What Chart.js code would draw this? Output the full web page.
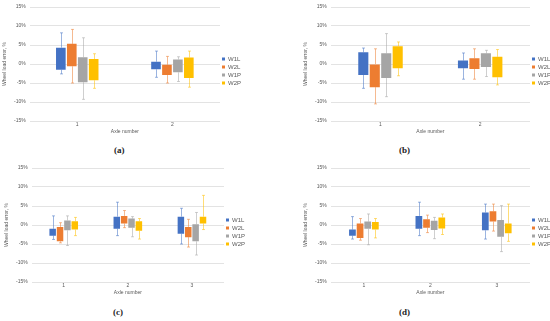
<!DOCTYPE html>
<html>
<head>
<meta charset="utf-8">
<script src="https://cdn.jsdelivr.net/npm/chart.js@4.4.0/dist/chart.umd.min.js"></script>
<style>
  body { margin:0; background:#fff; width:550px; height:321px; overflow:hidden; position:relative; }
  canvas { position:absolute; }
  .cap { position:absolute; font-family:"Liberation Serif","DejaVu Serif",serif; font-weight:bold; font-size:9px; color:#222; }
</style>
</head>
<body>
<canvas id="ca" width="275" height="138" style="left:0;top:0"></canvas>
<canvas id="cb" width="286" height="138" style="left:275px;top:0"></canvas>
<canvas id="cc" width="275" height="138" style="left:0;top:161px"></canvas>
<canvas id="cd" width="286" height="138" style="left:275px;top:161px"></canvas>
<div class="cap" style="left:114px;top:145px">(a)</div>
<div class="cap" style="left:399px;top:145px">(b)</div>
<div class="cap" style="left:113px;top:307px">(c)</div>
<div class="cap" style="left:399px;top:307px">(d)</div>
<script>
const series = ['W1L', 'W2L', 'W1P', 'W2P'];
const colors = ['#4472C4', '#ED7D31', '#A5A5A5', '#FFC000'];
const axles2 = ['1', '2'];
const axles3 = ['1', '2', '3'];
const yTicks = [-15, -10, -5, 0, 5, 10, 15];

// rows = series (W1L, W2L, W1P, W2P), columns = axles
// panel (a)
const aMin = [[-2.6, -3.5], [-5.0, -5.0], [-9.3, -4.6], [-6.4, -6.1]];
const aQ1  = [[-1.5, -1.4], [-0.6, -2.9], [-4.8, -2.2], [-4.3, -3.7]];
const aQ3  = [[4.3, 0.6], [5.3, -0.2], [1.8, 1.2], [1.3, 1.7]];
const aMax = [[8.2, 3.4], [9.1, 2.0], [6.9, 1.9], [2.7, 3.4]];
// panel (b)
const bMin = [[-6.4, -4.0], [-10.5, -4.0], [-8.6, -3.3], [-3.1, -5.5]];
const bQ1  = [[-2.9, -1.1], [-6.1, -1.3], [-3.7, -0.8], [-1.1, -3.5]];
const bQ3  = [[3.1, 0.9], [0.0, 1.5], [2.8, 2.8], [4.7, 1.9]];
const bMax = [[4.2, 2.9], [4.0, 4.0], [8.0, 3.6], [5.8, 3.8]];
// panel (c)
const cMin = [[-3.8, -2.8, -5.0], [-4.7, -0.7, -5.8], [-5.4, -3.1, -7.9], [-2.8, -3.7, -1.2]];
const cQ1  = [[-2.8, -1.0, -2.3], [-4.3, 0.4, -3.2], [-1.4, -0.7, -4.3], [-1.2, -1.5, 0.4]];
const cQ3  = [[-1.0, 2.2, 2.2], [-0.5, 2.4, -0.5], [1.2, 1.7, 0.2], [1.0, 1.0, 2.2]];
const cMax = [[2.4, 6.0, 4.4], [0.6, 3.8, 1.5], [2.4, 2.2, 3.3], [2.0, 1.7, 7.8]];
// panel (d)
const dMin = [[-3.7, -2.8, -3.7], [-4.0, -2.0, -1.6], [-5.2, -3.6, -7.0], [-3.4, -2.5, -4.3]];
const dQ1  = [[-2.8, -1.0, -1.4], [-3.4, -0.7, 0.9], [-1.0, -1.3, -3.1], [-1.2, -0.9, -2.2]];
const dQ3  = [[-1.2, 2.4, 3.3], [0.4, 1.5, 3.6], [0.9, 1.1, 1.3], [0.8, 2.0, 0.4]];
const dMax = [[2.2, 6.0, 5.5], [1.7, 2.6, 5.5], [2.9, 2.0, 5.1], [1.7, 2.9, 5.5]];

const txt = '#595959';

// draws the whiskers of each box from the dataset's lo/hi arrays
const whiskers = {
    id: 'whiskers',
    afterDatasetsDraw(chart) {
        const ctx = chart.ctx;
        const y = chart.scales.y;
        chart.data.datasets.forEach((ds, i) => {
            const meta = chart.getDatasetMeta(i);
            ctx.save();
            ctx.strokeStyle = ds.whiskerColor;
            ctx.lineWidth = 1;
            meta.data.forEach((bar, j) => {
                const x = Math.round(bar.x) + 0.5;
                const yHi = y.getPixelForValue(ds.hi[j]);
                const yLo = y.getPixelForValue(ds.lo[j]);
                const yTop = y.getPixelForValue(ds.data[j][1]);
                const yBot = y.getPixelForValue(ds.data[j][0]);
                ctx.beginPath();
                ctx.moveTo(x, yHi); ctx.lineTo(x, yTop);
                ctx.moveTo(x, yBot); ctx.lineTo(x, yLo);
                ctx.moveTo(x - 1.5, yHi); ctx.lineTo(x + 1.5, yHi);
                ctx.moveTo(x - 1.5, yLo); ctx.lineTo(x + 1.5, yLo);
                ctx.stroke();
            });
            ctx.restore();
        });
    }
};

function makePanel(id, cats, lo, q1, q3, hi, padLeft, padRight) {
    new Chart(document.getElementById(id), {
        type: 'bar',
        data: {
            labels: cats,
            datasets: series.map((s, i) => ({
                label: s,
                data: q1[i].map((v, j) => [v, q3[i][j]]),
                lo: lo[i],
                hi: hi[i],
                backgroundColor: colors[i],
                whiskerColor: colors[i] + '88',
                borderWidth: 0,
                categoryPercentage: 0.46,
                barPercentage: 0.88
            }))
        },
        options: {
            responsive: false,
            animation: false,
            layout: { padding: { left: padLeft, right: padRight, top: 7, bottom: 3 } },
            plugins: {
                legend: {
                    position: 'right',
                    labels: { boxWidth: 3, boxHeight: 3, padding: 2, color: txt, font: { size: 6 } }
                },
                tooltip: { enabled: false }
            },
            scales: {
                x: {
                    grid: { display: false, drawTicks: false },
                    border: { display: false },
                    ticks: { color: txt, font: { size: 5 }, padding: 1 },
                    title: { display: true, text: 'Axle number', color: txt, font: { size: 5 }, padding: 0 }
                },
                y: {
                    min: -15,
                    max: 15,
                    afterBuildTicks: axis => { axis.ticks = yTicks.map(v => ({ value: v })); },
                    grid: { color: '#e3e3e3', drawTicks: false },
                    border: { display: false },
                    ticks: { color: txt, font: { size: 5 }, padding: 4, callback: v => v + '%' },
                    title: { display: true, text: 'Wheel load error, %', color: txt, font: { size: 5 }, padding: 2 }
                }
            }
        },
        plugins: [whiskers]
    });
}

makePanel('ca', axles2, aMin, aQ1, aQ3, aMax, 0, 24);
makePanel('cb', axles2, bMin, bQ1, bQ3, bMax, 26, 0);
makePanel('cc', axles3, cMin, cQ1, cQ3, cMax, 2, 20);
makePanel('cd', axles3, dMin, dQ1, dQ3, dMax, 26, 0);
</script>
</body>
</html>
